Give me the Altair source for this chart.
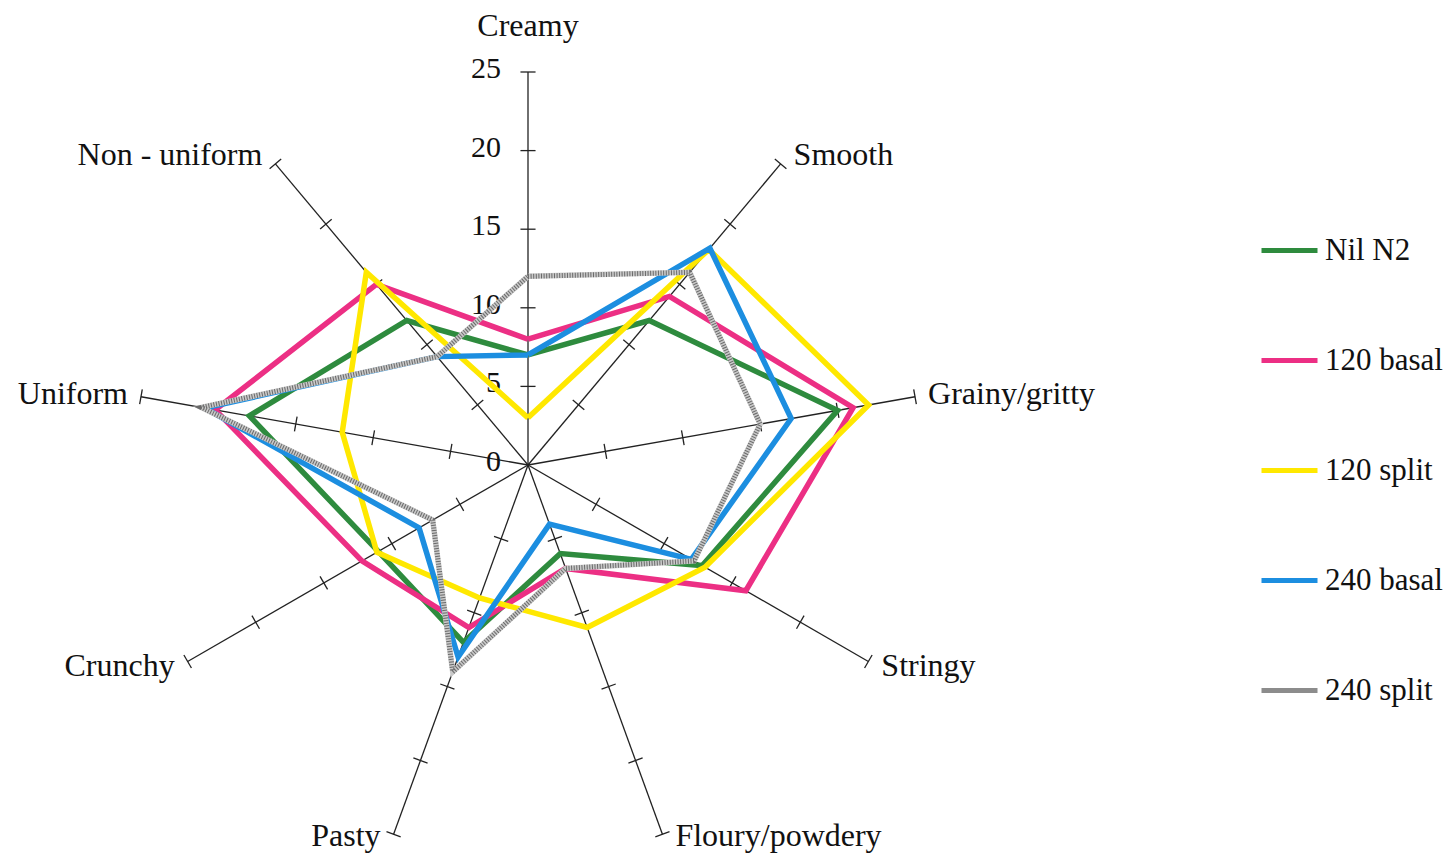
import altair as alt
import pandas as pd

# ---------------- data ----------------
categories = ["Creamy", "Smooth", "Grainy/gritty", "Stringy", "Floury/powdery",
              "Pasty", "Crunchy", "Uniform", "Non - uniform"]
series_names = ["Nil N2", "120 basal", "120 split", "240 basal", "240 split"]
nil_n2    = [7, 12, 20, 12.8, 6, 12, 11, 18, 12]
basal_120 = [8, 14, 21, 16, 7, 11, 12.2, 20.2, 15]
split_120 = [3, 17.9, 22, 13, 11, 9, 11.1, 12, 16]
basal_240 = [7, 18, 17, 12, 4, 13, 8, 20.9, 9]
split_240 = [12, 16, 15, 12.2, 7, 14, 7, 21.1, 9]
tick_values = [5, 10, 15, 20, 25]
radial_labels = [0, 5, 10, 15, 20, 25]
series_colors = ["#2E8B3E", "#EC2F84", "#FFE800", "#1C8EE0", "#8C8C8C"]

all_series = [nil_n2, basal_120, split_120, basal_240, split_240]

# ---------------- layout ----------------
K = 15.72            # pixels per unit
W, H = 1435, 847
CX, CY = 520, 457    # centre inside plot area
xs = alt.Scale(domain=[-CX / K, (W - CX) / K], nice=False, zero=False)
ys = alt.Scale(domain=[-(H - CY) / K, CY / K], nice=False, zero=False)
RMAX = 25
ANG = "(90 - 40 * datum.idx) * PI / 180"
FONT = "Liberation Serif"
LOW = -(828 - CY) / K   # lowest label centre (keeps descenders inside the canvas)

rows = []
for name, vals in zip(series_names, all_series):
    for i, v in enumerate(vals + [vals[0]]):
        rows.append({"series": name, "idx": i % len(categories), "ord": i, "value": v})
sdf = pd.DataFrame(rows)

cat_df = pd.DataFrame({"cat": categories, "idx": list(range(len(categories)))})
tick_df = pd.DataFrame([{"idx": i, "r": r} for i in range(len(categories)) for r in tick_values])
rl_df = pd.DataFrame({"r": radial_labels, "lab": [str(v) for v in radial_labels]})

X = lambda f: alt.X(f, type="quantitative", scale=xs, axis=None)
Y = lambda f: alt.Y(f, type="quantitative", scale=ys, axis=None)

# spokes
spokes = alt.Chart(cat_df).transform_calculate(
    a=ANG, ox="0", oy="0",
    ex=f"{RMAX} * cos({ANG})", ey=f"{RMAX} * sin({ANG})"
).mark_rule(color="#222222", strokeWidth=1.3).encode(
    x=X("ox"), y=Y("oy"), x2="ex:Q", y2="ey:Q"
)

# ticks
HL = 0.48
ticks = alt.Chart(tick_df).transform_calculate(
    a=ANG
).transform_calculate(
    bx="datum.r * cos(datum.a)", by="datum.r * sin(datum.a)"
).transform_calculate(
    x1=f"datum.bx + {HL} * sin(datum.a)", y1=f"datum.by - {HL} * cos(datum.a)",
    x2=f"datum.bx - {HL} * sin(datum.a)", y2=f"datum.by + {HL} * cos(datum.a)"
).mark_rule(color="#222222", strokeWidth=1.3).encode(
    x=X("x1"), y=Y("y1"), x2="x2:Q", y2="y2:Q"
)

# radial value labels
rlabels = alt.Chart(rl_df).transform_calculate(zx="0").mark_text(
    font=FONT, fontSize=30, align="right", baseline="middle", dx=-27, dy=-3, color="#111111"
).encode(x=X("zx"), y=Y("r"), text="lab:N")

# category labels
def cat_layer(filter_expr, align, dx, top=False):
    base = alt.Chart(cat_df).transform_filter(filter_expr).transform_calculate(a=ANG)
    if top:
        base = base.transform_calculate(lx="0", ly=f"{RMAX} + 46 / {K}")
    else:
        base = base.transform_calculate(
            lx=f"{RMAX} * cos(datum.a)",
            ly=f"max({RMAX} * sin(datum.a) + (10 * sin(datum.a) + 1) / {K}, {LOW})")
    return base.mark_text(font=FONT, fontSize=32, align=align, baseline="middle",
                          dx=dx, color="#111111").encode(x=X("lx"), y=Y("ly"), text="cat:N")

lab_top = cat_layer("datum.idx == 0", "center", 0, top=True)
lab_right = cat_layer("datum.idx >= 1 && datum.idx <= 4", "left", 13)
lab_left = cat_layer("datum.idx >= 5", "right", -13)

color_scale = alt.Scale(domain=series_names, range=series_colors)
legend = alt.Legend(title=None, orient="none", legendX=1251, legendY=212,
                    symbolType="stroke", symbolSize=3136, symbolStrokeWidth=5,
                    labelFont=FONT, labelFontSize=31, labelColor="#111111",
                    labelOffset=5, rowPadding=64, padding=0)

def series_base(name):
    return alt.Chart(sdf).transform_filter(alt.datum.series == name).transform_calculate(
        a=ANG
    ).transform_calculate(
        px="datum.value * cos(datum.a)", py="datum.value * sin(datum.a)"
    )

line_layers = []
for n, name in enumerate(series_names[:4]):
    line_layers.append(
        series_base(name).mark_line(strokeWidth=5.5).encode(
            x=X("px"), y=Y("py"),
            color=alt.Color("series:N", scale=color_scale, legend=legend if n == 0 else None),
            order="ord:Q")
    )

gray_base = series_base(series_names[4]).mark_line(strokeWidth=5.5, color="#c9c9c9").encode(
    x=X("px"), y=Y("py"), order="ord:Q")
gray_dots = series_base(series_names[4]).mark_line(
    strokeWidth=5, color="#4a4a4a", strokeDash=[1, 1.6], opacity=0.75).encode(
    x=X("px"), y=Y("py"), order="ord:Q")

chart = alt.layer(
    spokes, ticks, rlabels, lab_top, lab_right, lab_left,
    *line_layers, gray_base, gray_dots
).properties(
    width=W, height=H, padding=0, autosize=alt.AutoSizeParams(type="none")
).configure_view(strokeWidth=0)

chart.save("out.html", embed_options={"renderer": "svg", "actions": False})
